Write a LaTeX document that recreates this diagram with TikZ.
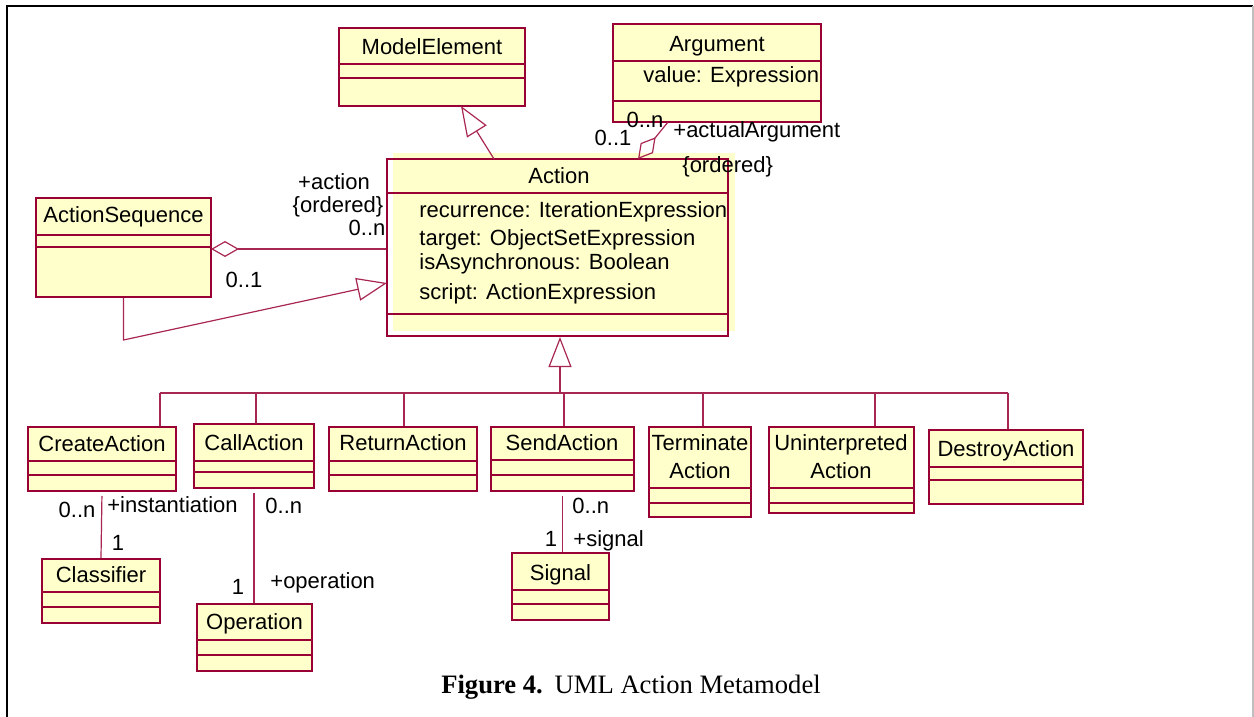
\documentclass[tikz,border=0pt]{standalone}
\usepackage{fontspec}
\setmainfont{Liberation Serif}
\newfontfamily\rosefont{Liberation Sans}
\usetikzlibrary{arrows.meta,fit}

\definecolor{roseline}{RGB}{153,0,51}
\definecolor{rosefill}{RGB}{255,255,204}

\tikzset{
  classe/.style={draw=roseline, line width=1pt, inner sep=0pt, fill=rosefill},
  sep/.style={draw=roseline, line width=0.7pt},
  lien/.style={draw=roseline!85, line width=0.6pt},
  txt/.style={font=\rosefont\fontsize{11}{14}\selectfont, inner sep=0pt,
    text height=7.9pt, text depth=0pt},
  herite/.style={lien, -{Triangle[open, length=15pt, width=11.5pt]}},
  agrege/.style={lien, {Diamond[open, length=14pt, width=8pt]}-},
}

% boite UML : nom, coins, deux separateurs
\newcommand{\umlclasse}[7]{%
  \node[classe, fit={(#2,#3) (#4,#5)}] (#1) {};
  \draw[sep] (#2,#6) -- (#4,#6);
  \draw[sep] (#2,#7) -- (#4,#7);
}

\begin{document}
\begin{tikzpicture}[x=0.5pt, y=-0.5pt]
\useasboundingbox (0,0) rectangle (1254,717);

% Cadre
\draw[line width=1.2pt]
(7,717)
-- (7,6)
-- (1253,6);
\draw[gray!50, line width=0.6pt]
(1253,6)
-- (1253,717);

% Classes du haut
\umlclasse{modelelt}{339}{28}{525}{106}{64}{78}
\umlclasse{argument}{613}{24}{821}{122}{61}{101}
\umlclasse{actseq}{36}{198}{211}{297}{235}{247}

% Action (fond jaune decale)
\fill[rosefill]
(393,153)
rectangle
(735,331);
\node[classe, fill=none, fit={(387,159) (728,336)}] (action) {};
\draw[sep] (387,193) -- (728,193);
\draw[sep] (387,314) -- (728,314);

% Sous-classes
\umlclasse{create}{28}{427}{176}{491}{461}{475}
\umlclasse{call}{194}{424}{314}{488}{461}{472}
\umlclasse{return}{329}{427}{477}{491}{461}{475}
\umlclasse{send}{491}{427}{634}{491}{460}{475}
\umlclasse{terminate}{649}{427}{751}{517}{488}{503}
\umlclasse{uninterp}{769}{427}{914}{513}{488}{503}
\umlclasse{destroy}{929}{430}{1083}{504}{467}{480}
\umlclasse{classifier}{42}{559}{160}{623}{592}{607}
\umlclasse{operation}{197}{604}{312}{671}{640}{655}
\umlclasse{signal}{512}{553}{609}{620}{590}{604}

% Noms
\node[txt] (n-modelelt) at (432,47) {ModelElement};
\node[txt] (n-argument) at (717,44) {Argument};
\node[txt, anchor=west] (n-value) at (643,75) {value: Expression};
\node[txt] (n-actseq) at (123.5,215) {ActionSequence};
\node[txt] (n-action) at (559,176) {Action};
\node[txt, anchor=west] (n-recur) at (419,210) {recurrence: IterationExpression};
\node[txt, anchor=west] (n-target) at (419,238) {target: ObjectSetExpression};
\node[txt, anchor=west] (n-async) at (419,262) {isAsynchronous: Boolean};
\node[txt, anchor=west] (n-script) at (419,292) {script: ActionExpression};
\node[txt] (n-create) at (102,444) {CreateAction};
\node[txt] (n-call) at (254,443) {CallAction};
\node[txt] (n-return) at (403,443) {ReturnAction};
\node[txt] (n-send) at (562,443) {SendAction};
\node[txt] (n-term1) at (700,443) {Terminate};
\node[txt] (n-term2) at (700,471) {Action};
\node[txt] (n-unint1) at (841,443) {Uninterpreted};
\node[txt] (n-unint2) at (841,471) {Action};
\node[txt] (n-destroy) at (1006,449) {DestroyAction};
\node[txt] (n-classifier) at (101,575) {Classifier};
\node[txt] (n-operation) at (254.5,622) {Operation};
\node[txt] (n-signal) at (560.5,573) {Signal};

% Generalisations
\coordinate (g-me) at (461,106);
\coordinate (g-act) at (494,159);
\draw[herite] (g-act) -- (g-me);

\coordinate (g-aw) at (387,283);
\draw[herite]
(actseq.south)
-- ++(0,42)
-- (g-aw);

\coordinate (g-bus) at (560,393);
\draw[herite] (g-bus) -- (action.south -| g-bus);
\foreach \nom/\xx in {create/160, call/256, return/404, send/564,
  terminate/703, uninterp/875, destroy/1008}{
  \coordinate (d-\nom) at (\xx,393);
  \draw[lien] (d-\nom) -- (d-\nom |- \nom.north);
}
\draw[lien] (d-create) -- (d-destroy);

% Agregations
\coordinate (a-as) at (211,249);
\draw[agrege] (a-as) -- (a-as -| action.west);
\coordinate (a-act) at (638,159);
\coordinate (a-arg) at (668,122);
\draw[agrege] (a-act) -- (a-arg);

% Associations
\draw[lien, shorten <=2pt] (create.south) -- (classifier.north);
\draw[lien, shorten <=2pt] (call.south) -- (call.south |- operation.north);
\draw[lien, shorten <=2pt] (send.south) -- (send.south |- signal.north);

% Roles et multiplicites
\node[txt] (m-act-r) at (334,182) {+action};
\node[txt] (m-act-o) at (338,205) {\{ordered\}};
\node[txt] (m-act-n) at (367,228) {0..n};
\node[txt] (m-as-1) at (244,280) {0..1};
\node[txt] (m-arg-n) at (645,120) {0..n};
\node[txt] (m-arg-1) at (613,138) {0..1};
\node[txt, anchor=west] (m-arg-r) at (673,130) {+actualArgument};
\node[txt, anchor=west] (m-arg-o) at (682,165) {\{ordered\}};
\node[txt] (m-cr-n) at (77,510) {0..n};
\node[txt, anchor=west] (m-cr-r) at (107,505) {+instantiation};
\node[txt] (m-cl-1) at (118,543) {1};
\node[txt, anchor=west] (m-ca-n) at (265,506) {0..n};
\node[txt] (m-op-1) at (238,587) {1};
\node[txt, anchor=west] (m-op-r) at (270,581) {+operation};
\node[txt, anchor=west] (m-se-n) at (572,506) {0..n};
\node[txt] (m-si-1) at (551,539) {1};
\node[txt, anchor=west] (m-si-r) at (573,539) {+signal};

% Legende
\node[anchor=base, inner sep=0pt, font=\fontsize{13.3}{15}\selectfont] (legende) at (631,693)
{\textbf{Figure 4.}\hspace{0.45em}UML Action Metamodel};

\end{tikzpicture}
\end{document}
